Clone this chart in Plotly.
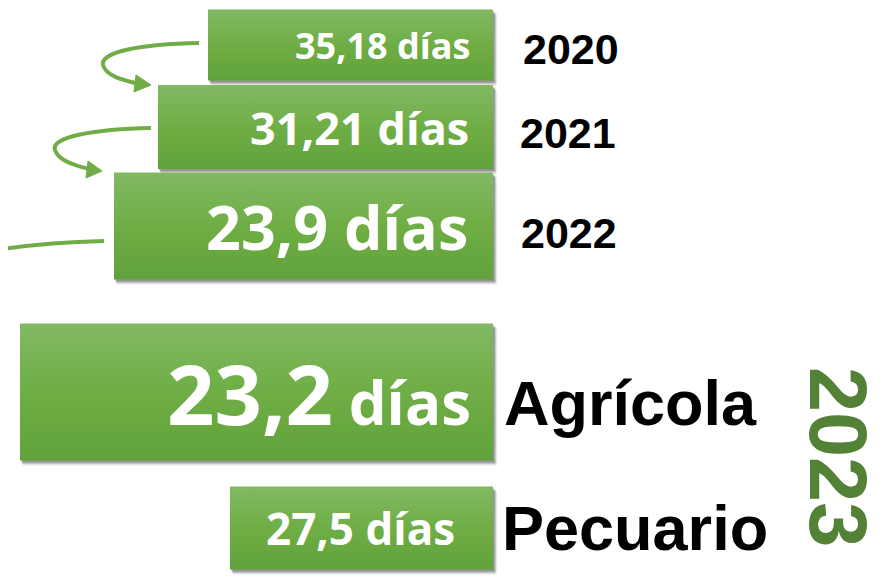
import plotly.graph_objects as go

# ---- data ----
categories = ["2020", "2021", "2022", "Agrícola", "Pecuario"]
values = [35.18, 31.21, 23.9, 23.2, 27.5]
unit = "días"
group_label = "2023"

# ---- layout (design, not data): bar geometry in pixel-space axes ----
bar_right = 493
bar_len = [285, 335, 379, 473, 263]
bar_mid = [45, 127, 226, 392, 528]
bar_thick = [71, 84, 107, 137, 83]
value_size = [36, 45, 61, 60, 44]
value_pad = [21, 22, 23, 20, 36]
label_x = [521, 518, 519, 502, 500]
label_size = [43, 43, 43, 63, 63]
label_dy = [4, 6, 7, 11, 0]

GREEN = "#70AD47"
DARK = "#538135"

# page body has an 8px margin: make the figure fit the window exactly
OFF = 8
W, H = 884, 577

fig = go.Figure()

def rect(x0, x1, y0, y1):
    return [x0, x1, x1, x0, x0], [y0, y0, y1, y1, y0]

for i, cat in enumerate(categories):
    x1 = bar_right
    x0 = bar_right - bar_len[i]
    y0 = bar_mid[i] - bar_thick[i] / 2
    y1 = bar_mid[i] + bar_thick[i] / 2
    # soft drop shadow
    for off, a in [(5, 0.07), (4, 0.10), (3, 0.14), (2, 0.18)]:
        xs, ys = rect(x0 + off * 0.6, x1 + off * 0.8, y0 + off, y1 + off)
        fig.add_trace(go.Scatter(x=xs, y=ys, fill="toself", mode="none",
                                 fillcolor=f"rgba(0,0,0,{a})", hoverinfo="skip",
                                 showlegend=False))
    xs, ys = rect(x0, x1, y0, y1)
    fig.add_trace(go.Scatter(
        x=xs, y=ys, fill="toself", mode="none", name=cat,
        fillgradient=dict(type="vertical",
                          colorscale=[[0, "#62A23A"], [0.5, "#6EAE45"], [1, "#82B964"]]),
        hovertext=f"{cat}: {values[i]} {unit}", hoverinfo="text", showlegend=False))

annotations = []
for i, cat in enumerate(categories):
    vtxt = str(values[i]).replace(".", ",")
    if cat == "Agrícola":
        text = f"<span style='font-size:83px'>{vtxt}</span> {unit}"
    else:
        text = f"{vtxt} {unit}"
    annotations.append(dict(
        x=bar_right - value_pad[i], y=bar_mid[i], xref="x", yref="y",
        text=text, showarrow=False, xanchor="right", yanchor="middle",
        font=dict(family="Open Sans", size=value_size[i], color="white", weight=700)))
    annotations.append(dict(
        x=label_x[i], y=bar_mid[i] + label_dy[i], xref="x", yref="y",
        text=cat, showarrow=False, xanchor="left", yanchor="middle",
        font=dict(family="Liberation Sans, Arial", size=label_size[i], color="black", weight=700)))

annotations.append(dict(
    x=838, y=457, xref="x", yref="y", text=group_label, showarrow=False,
    textangle=90, xanchor="center", yanchor="middle",
    font=dict(family="Liberation Sans, Arial", size=81, color=DARK, weight=700)))

shapes = [
    dict(type="path", xref="x", yref="y",
         path="M 199 43 C 140 44, 100 52, 103 65 C 106 76, 122 80, 140 84",
         line=dict(color=GREEN, width=4)),
    dict(type="path", xref="x", yref="y",
         path="M 151 85 L 136 75 L 134 92 Z",
         fillcolor=GREEN, line=dict(color=GREEN, width=1)),
    dict(type="path", xref="x", yref="y",
         path="M 151 128 C 95 129, 50 137, 55 150 C 58 160, 72 165, 90 169",
         line=dict(color=GREEN, width=4)),
    dict(type="path", xref="x", yref="y",
         path="M 102 171 L 88 161 L 86 178 Z",
         fillcolor=GREEN, line=dict(color=GREEN, width=1)),
    dict(type="path", xref="x", yref="y",
         path="M 104 241 Q 48 242.6, 6 248.5",
         line=dict(color=GREEN, width=4)),
]

fig.update_layout(
    width=W - OFF, height=H - OFF,
    margin=dict(l=0, r=0, t=0, b=0),
    paper_bgcolor="white", plot_bgcolor="white",
    xaxis=dict(range=[OFF, W], visible=False, fixedrange=True),
    yaxis=dict(range=[H, OFF], visible=False, fixedrange=True),
    annotations=annotations, shapes=shapes,
    showlegend=False,
)

fig.write_html("out.html")
